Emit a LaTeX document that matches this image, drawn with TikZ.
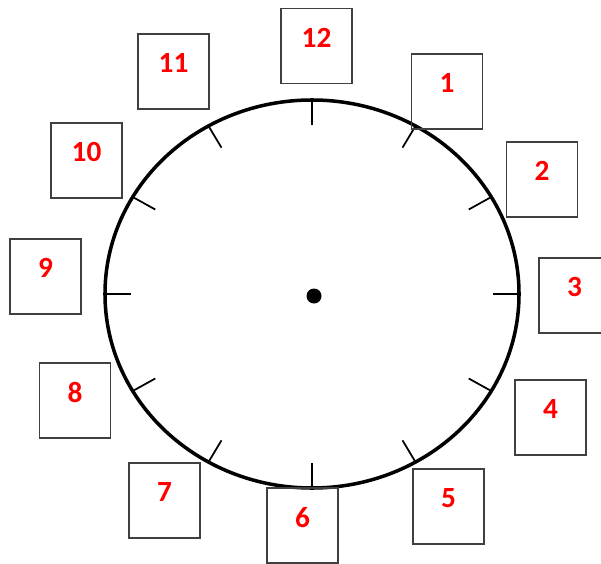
\documentclass[tikz,border=0pt]{standalone}
\usepackage{fontspec}
\setmainfont{Carlito}
\usetikzlibrary{calc}
\definecolor{hourred}{HTML}{FF0000}
\definecolor{boxgray}{HTML}{404040}

\begin{document}
\begin{tikzpicture}[x=0.03cm,y=-0.03cm,
  clockbox/.style={draw=boxgray,line width=1.3pt,minimum width=2.13cm,minimum height=2.25cm,inner sep=0pt},
  hournum/.style={text=hourred,font=\fontsize{25}{30}\selectfont\bfseries,inner sep=0pt},
  tickline/.style={line width=1.5pt}]
  \useasboundingbox (0,0) rectangle (601,563);

  % Clock face
  \coordinate (centre) at (312,294);
  \draw[line width=3pt] (centre) ellipse [x radius=6.21cm,y radius=5.82cm];
  \foreach \k in {0,...,11}
    \draw[tickline] ($(centre)+({207*cos(30*\k)},{-194*sin(30*\k)})$) -- ($(centre)+({181*cos(30*\k)},{-169*sin(30*\k)})$);
  \fill (314,296) circle [radius=0.225cm];

  % Hour boxes
  \foreach \h/\bx/\by in {1/447/91.5, 2/542/179.5, 3/574.5/295.5, 4/550.5/417.5,
                          5/448.5/506.5, 6/302.5/525.5, 7/164.5/500.5, 8/75/400.5,
                          9/45.5/276.5, 10/86.5/160.5, 11/173.5/71.5, 12/316.5/46}{
    \node[clockbox] (box\h) at (\bx,\by) {};
    \node[hournum] (num\h) at ($(box\h.north)+(0,30)$) {\h};
  }
\end{tikzpicture}
\end{document}
